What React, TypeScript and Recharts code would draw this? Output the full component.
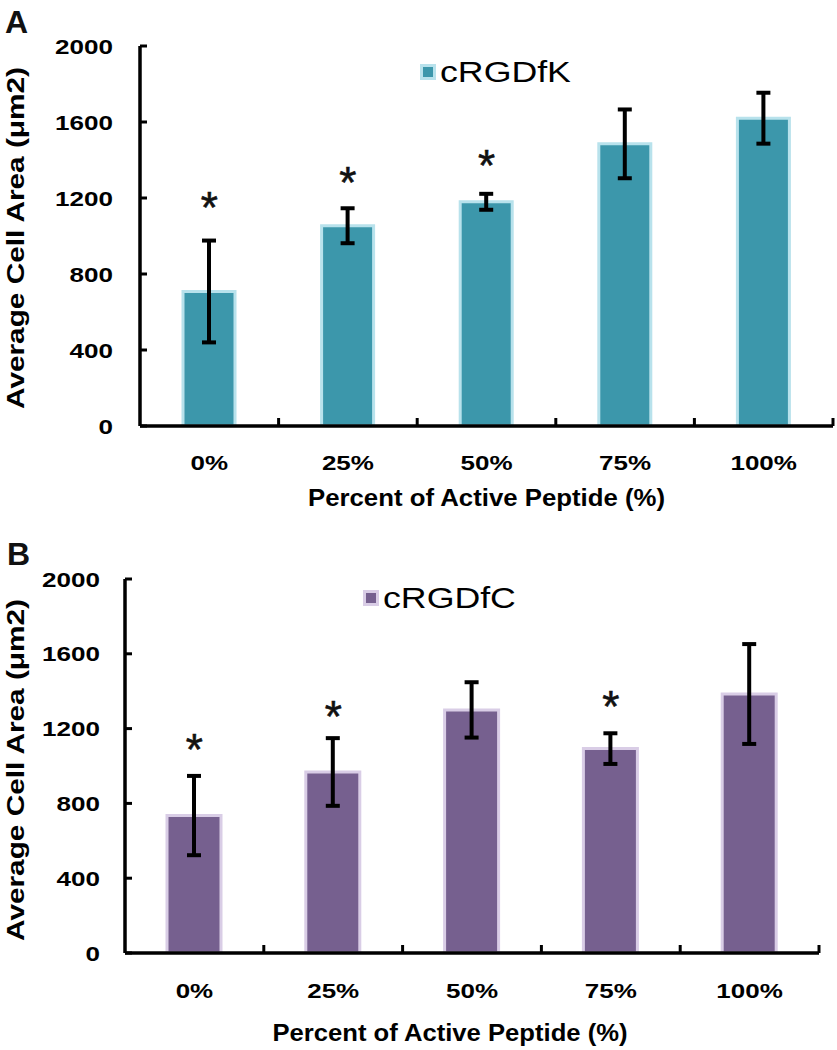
import React from 'react';
import { ComposedChart, Bar, XAxis, YAxis, ErrorBar, Scatter, Legend, Label } from 'recharts';

const categories = ['0%', '25%', '50%', '75%', '100%'];
const yTicks = [0, 400, 800, 1200, 1600, 2000];

const seriesNameA = 'cRGDfK';
const meanA = [708, 1054, 1180, 1485, 1620];
const errA = [268, 92, 42, 181, 134];
const sigA: (number | null)[] = [1199, 1331, 1420, null, null];

const seriesNameB = 'cRGDfC';
const meanB = [735, 968, 1300, 1093, 1385];
const errB = [212, 181, 148, 82, 267];
const sigB: (number | null)[] = [1139, 1316, null, 1369, null];

const xTitle = 'Percent of Active Peptide (%)';
const yTitle = 'Average Cell Area (\u03bcm2)';
const panelLetters = ['A', 'B'];

const FONT = '"Liberation Sans", Arial, Helvetica, sans-serif';
const W = 837;

const dataA = categories.map((pct, i) => ({ pct, mean: meanA[i], err: errA[i], sig: sigA[i] }));
const dataB = categories.map((pct, i) => ({ pct, mean: meanB[i], err: errB[i], sig: sigB[i] }));

const textLen = (s: string) => {
  let w = 0;
  for (const ch of s) w += ch === '%' ? 23 : 14.5;
  return w;
};

const YTick = (p: any) => {
  const { x, y, payload, gap } = p;
  const s = String(payload.value);
  return (
    <g>
      <line x1={x} x2={x + 7} y1={y} y2={y} stroke="#000" strokeWidth={3} />
      <text x={x - gap} y={y} dy={7.5} textAnchor="end" fontFamily={FONT} fontWeight={700} fontSize={21} fill="#000"
        textLength={textLen(s)} lengthAdjust="spacingAndGlyphs">{s}</text>
    </g>
  );
};

const XTick = (p: any) => {
  const { x, y, payload, band, dy } = p;
  const s = String(payload.value);
  return (
    <g>
      <line x1={x + band / 2} x2={x + band / 2} y1={y} y2={y - 8} stroke="#000" strokeWidth={3} />
      <text x={x} y={y + dy} textAnchor="middle" fontFamily={FONT} fontWeight={700} fontSize={21} fill="#000"
        textLength={textLen(s)} lengthAdjust="spacingAndGlyphs">{s}</text>
    </g>
  );
};

const Asterisk = (p: any) => {
  const { cx, cy, payload } = p;
  if (!payload || payload.sig == null || !isFinite(cx) || !isFinite(cy)) return <g />;
  return (
    <text x={cx} y={cy + 25} textAnchor="middle" fontFamily={FONT} fontSize={44} fill="#111"
      stroke="#111" strokeWidth={0.6}>*</text>
  );
};

function Panel(props: any) {
  const {
    data, name, fill, border, top, height, marginTop, marginRight, yWidth, xHeight, barSize,
    legendLeft, legendTop, yLabelGap, xTickDy, xTitleDy, xTitleShift, xTitleLen,
    yTitleShift, yTitleLen,
  } = props;
  const plotW = W - yWidth - marginRight;
  const band = plotW / categories.length;
  return (
    <div style={{ position: 'absolute', left: 0, top, width: W, height }}>
      <ComposedChart width={W} height={height} data={data}
        margin={{ top: marginTop, right: marginRight, bottom: 0, left: 0 }} style={{ fontFamily: FONT }}>
        <XAxis dataKey="pct" height={xHeight} allowDuplicatedCategory={false} interval={0}
          axisLine={{ stroke: '#000', strokeWidth: 3.5 }} tickLine={false} tickSize={0} tickMargin={0}
          tick={(tp: any) => <XTick {...tp} band={band} dy={xTickDy} />}>
          <Label content={(lp: any) => {
            const vb = lp.viewBox || {};
            return (
              <text x={vb.x + vb.width / 2 + xTitleShift} y={vb.y + xTitleDy} textAnchor="middle" fontFamily={FONT}
                fontWeight={700} fontSize={23} fill="#000" textLength={xTitleLen} lengthAdjust="spacingAndGlyphs">{xTitle}</text>
            );
          }} />
        </XAxis>
        <YAxis width={yWidth} domain={[0, 2000]} ticks={yTicks} interval={0} allowDataOverflow
          axisLine={{ stroke: '#000', strokeWidth: 3.5 }} tickLine={false} tickSize={0} tickMargin={0}
          tick={(tp: any) => <YTick {...tp} gap={yLabelGap} />}>
          <Label content={(lp: any) => {
            const vb = lp.viewBox || {};
            const cx = vb.x + 24;
            const cy = vb.y + vb.height / 2 + yTitleShift;
            return (
              <text transform={`translate(${cx},${cy}) rotate(-90)`} textAnchor="middle" fontFamily={FONT}
                fontWeight={700} fontSize={23} fill="#000" textLength={yTitleLen} lengthAdjust="spacingAndGlyphs">{yTitle}</text>
            );
          }} />
        </YAxis>
        <Legend layout="horizontal" verticalAlign="middle" align="center"
          wrapperStyle={{ left: legendLeft, top: legendTop, width: 'auto', height: 'auto' }}
          content={(lp: any) => {
            const items = (lp.payload || []).filter((it: any) => it.type !== 'none');
            const it = items[0] || { value: name, color: fill };
            return (
              <div style={{ display: 'flex', alignItems: 'center', fontFamily: FONT, fontSize: 30, lineHeight: '30px', height: 30, whiteSpace: 'nowrap' }}>
                <span style={{ display: 'inline-block', width: 10, height: 10, background: fill, border: `3px solid ${border}`, marginRight: 4 }} />
                <span style={{ display: 'inline-block', transform: 'scaleX(1.19)', transformOrigin: 'left center', color: '#000' }}>{it.value}</span>
              </div>
            );
          }} />
        <Bar dataKey="mean" name={name} fill={fill} stroke={border} strokeWidth={3} barSize={barSize} isAnimationActive={false}>
          <ErrorBar dataKey="err" width={7} strokeWidth={4} stroke="#000" direction="y" />
        </Bar>
        <Scatter dataKey="sig" legendType="none" isAnimationActive={false} shape={Asterisk} />
      </ComposedChart>
    </div>
  );
}

export default function App() {
  return (
    <div style={{ position: 'absolute', left: 0, top: 0, width: W, height: 1050, background: '#fff', overflow: 'hidden' }}>
      <Panel data={dataA} name={seriesNameA} fill="#3C97AB" border="#B8E2EC" top={0} height={520}
        marginTop={46} marginRight={4} yWidth={140} xHeight={94} barSize={52}
        legendLeft={420} legendTop={57} yLabelGap={27} xTickDy={44}
        xTitleDy={80} xTitleShift={0} xTitleLen={357} yTitleShift={2} yTitleLen={342} />
      <Panel data={dataB} name={seriesNameB} fill="#76608F" border="#D9CDE6" top={520} height={530}
        marginTop={59} marginRight={18} yWidth={125} xHeight={97} barSize={54}
        legendLeft={363} legendTop={63} yLabelGap={25} xTickDy={45}
        xTitleDy={88} xTitleShift={-22} xTitleLen={355} yTitleShift={4} yTitleLen={342} />
      <svg width={W} height={1050} style={{ position: 'absolute', left: 0, top: 0, pointerEvents: 'none' }}>
        <text x={5} y={33} fontFamily={FONT} fontWeight={700} fontSize={32} fill="#111">{panelLetters[0]}</text>
        <text x={7} y={565} fontFamily={FONT} fontWeight={700} fontSize={32} fill="#111">{panelLetters[1]}</text>
      </svg>
    </div>
  );
}
